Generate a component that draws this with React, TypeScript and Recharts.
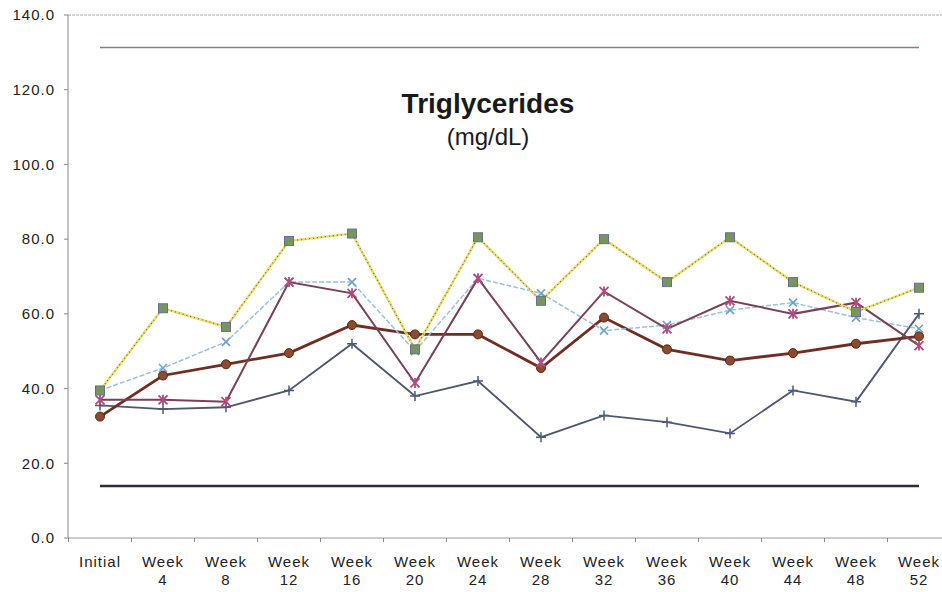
import React from "react";
import { LineChart, Line, XAxis, YAxis, ReferenceLine } from "recharts";

const categories = ["Initial", "Week 4", "Week 8", "Week 12", "Week 16", "Week 20", "Week 24", "Week 28", "Week 32", "Week 36", "Week 40", "Week 44", "Week 48", "Week 52"];
const squareSeries = [39.5, 61.5, 56.5, 79.5, 81.5, 50.5, 80.5, 63.5, 80.0, 68.5, 80.5, 68.5, 60.5, 67.0];
const crossSeries = [39.5, 45.5, 52.5, 68.5, 68.5, 50.0, 69.5, 65.5, 55.5, 57.0, 61.0, 63.0, 59.0, 56.0];
const starSeries = [37.0, 37.0, 36.5, 68.5, 65.5, 41.5, 69.5, 47.0, 66.0, 56.0, 63.5, 60.0, 63.0, 51.5];
const circleSeries = [32.5, 43.5, 46.5, 49.5, 57.0, 54.5, 54.5, 45.5, 59.0, 50.5, 47.5, 49.5, 52.0, 54.0];
const plusSeries = [35.5, 34.5, 35.0, 39.5, 52.0, 38.0, 42.0, 27.0, 32.8, 31.0, 28.0, 39.5, 36.5, 60.0];
const upperLimit = 131.3;
const lowerLimit = 13.9;
const yTicks = [0, 20, 40, 60, 80, 100, 120, 140];

const data = categories.map((label, i) => ({
  label,
  squares: squareSeries[i],
  crosses: crossSeries[i],
  stars: starSeries[i],
  circles: circleSeries[i],
  pluses: plusSeries[i],
}));

const FONT = "Arial, 'Liberation Sans', sans-serif";
const STEP = 63;

const SquareDot = (p: any) => (
  <rect key={p.index} x={p.cx - 4.5} y={p.cy - 4.5} width={9} height={9} fill="#7a9460" stroke="#5f7390" strokeWidth={1} />
);
const CrossDot = (p: any) => (
  <path key={p.index} d={`M${p.cx - 4},${p.cy - 4}L${p.cx + 4},${p.cy + 4}M${p.cx - 4},${p.cy + 4}L${p.cx + 4},${p.cy - 4}`} stroke="#6fa2c8" strokeWidth={1.6} />
);
const StarDot = (p: any) => (
  <path key={p.index} d={`M${p.cx - 4.5},${p.cy - 4.5}L${p.cx + 4.5},${p.cy + 4.5}M${p.cx - 4.5},${p.cy + 4.5}L${p.cx + 4.5},${p.cy - 4.5}M${p.cx},${p.cy - 5}L${p.cx},${p.cy + 5}`} stroke="#b24a7c" strokeWidth={1.8} />
);
const CircleDot = (p: any) => (
  <circle key={p.index} cx={p.cx} cy={p.cy} r={4.5} fill="#8c4a2e" stroke="#5a2818" strokeWidth={1} />
);
const PlusDot = (p: any) => (
  <path key={p.index} d={`M${p.cx - 5},${p.cy}L${p.cx + 5},${p.cy}M${p.cx},${p.cy - 5}L${p.cx},${p.cy + 5}`} stroke="#4a5a7c" strokeWidth={1.5} />
);

const XTick = (props: any) => {
  const { x, y, payload, index } = props;
  const parts = String(payload.value).split(" ");
  const last = index === categories.length - 1;
  return (
    <g>
      <line x1={x - STEP / 2} y1={y - 8} x2={x - STEP / 2} y2={y - 4} stroke="#888" />
      {last && <line x1={x + STEP / 2} y1={y - 8} x2={x + STEP / 2} y2={y - 4} stroke="#888" />}
      <text x={x} y={y + 21} textAnchor="middle" fontFamily={FONT} fontSize={15} letterSpacing={1} fill="#222">
        {parts[0]}
      </text>
      {parts[1] && (
        <text x={x} y={y + 39} textAnchor="middle" fontFamily={FONT} fontSize={15} letterSpacing={1} fill="#222">
          {parts[1]}
        </text>
      )}
    </g>
  );
};

export default function App() {
  return (
    <div style={{ position: "fixed", left: 0, top: 0, width: 942, height: 592, overflow: "hidden", background: "#fff" }}>
      <LineChart width={954} height={592} data={data} margin={{ top: 15, right: 3, left: 0, bottom: 4 }}>
        <XAxis
          dataKey="label"
          stroke="#999"
          tickLine={false}
          tickSize={8}
          tickMargin={0}
          height={50}
          interval={0}
          padding={{ left: 32, right: 32 }}
          tick={<XTick />}
        />
        <YAxis
          domain={[0, 140]}
          ticks={yTicks}
          width={68}
          stroke="#888"
          tickSize={4}
          tickMargin={9}
          tickFormatter={(v: number) => v.toFixed(1)}
          tick={{ fontFamily: FONT, fontSize: 15, fill: "#222", letterSpacing: 1 }}
        />
        <ReferenceLine y={140} stroke="#aaa" strokeDasharray="3 1" />
        <ReferenceLine
          segment={[{ x: "Initial", y: upperLimit }, { x: "Week 52", y: upperLimit }]}
          stroke="#a3707f"
          strokeWidth={1.5}
        />
        <ReferenceLine
          segment={[{ x: "Initial", y: lowerLimit }, { x: "Week 52", y: lowerLimit }]}
          stroke="#2b2b42"
          strokeWidth={2.5}
        />
        <Line dataKey="pluses" stroke="#4e5670" strokeWidth={1.8} dot={PlusDot} isAnimationActive={false} />
        <Line dataKey="circles" stroke="#6e2e22" strokeWidth={2.8} dot={CircleDot} isAnimationActive={false} />
        <Line dataKey="crosses" stroke="#9cc0dc" strokeWidth={1.5} strokeDasharray="5 2" dot={CrossDot} isAnimationActive={false} />
        <Line dataKey="stars" stroke="#7a4058" strokeWidth={2} dot={StarDot} isAnimationActive={false} />
        <Line dataKey="squares" stroke="#ece06a" strokeWidth={2.5} dot={false} isAnimationActive={false} />
        <Line dataKey="squares" stroke="#666" strokeWidth={1.2} strokeDasharray="1 3" dot={SquareDot} isAnimationActive={false} />
      </LineChart>
      <div style={{ position: "absolute", left: 338, top: 88, width: 300, textAlign: "center", fontFamily: FONT, color: "#1a1a1a" }}>
        <div style={{ fontSize: 28, fontWeight: "bold", lineHeight: "32px" }}>Triglycerides</div>
        <div style={{ fontSize: 24, lineHeight: "30px", marginTop: 2 }}>(mg/dL)</div>
      </div>
    </div>
  );
}
